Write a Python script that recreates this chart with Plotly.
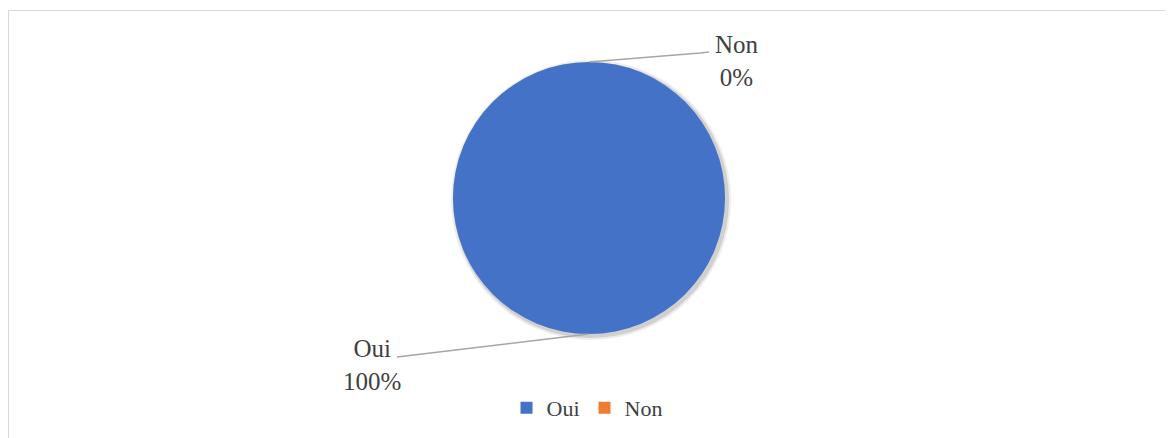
import plotly.graph_objects as go

W, H = 1173, 438
# the page body adds an 8px margin, so page pixels are shifted by this much
OFF = 8

labels = ["Oui", "Non"]
values = [100, 0]
colors = ["#4372C6", "#ED7D31"]

FONT = "Liberation Serif"
TXT = "#404040"


def px_x(x):
    return (x - OFF) / W


def px_y(y):
    return 1 - (y - OFF) / H


total = sum(values)
pct = [f"{round(v / total * 100)}%" for v in values]

fig = go.Figure()

# soft blurred shadow under the pie (two faint layers)
for grow, alpha in [(4, 0.07), (2, 0.12)]:
    fig.add_trace(go.Pie(
        labels=labels, values=values, sort=False,
        marker=dict(colors=[f"rgba(0,0,0,{alpha})"] * 2, line=dict(width=0)),
        textinfo="none", hoverinfo="skip", showlegend=False,
        domain=dict(x=[px_x(453 + 2 - grow), px_x(725 + 2 + grow)],
                    y=[px_y(334 + 2 + grow), px_y(62 + 2 - grow)]),
    ))

fig.add_trace(go.Pie(
    labels=labels, values=values, sort=False,
    marker=dict(colors=colors, line=dict(width=0)),
    textinfo="none",
    domain=dict(x=[px_x(453), px_x(725)], y=[px_y(334), px_y(62)]),
))

# leader lines
fig.add_shape(type="path", xref="paper", yref="paper",
              path=f"M {px_x(589)},{px_y(62)} L {px_x(700)},{px_y(53)} L {px_x(709)},{px_y(52)}",
              line=dict(color="#A6A6A6", width=1.5))
fig.add_shape(type="line", xref="paper", yref="paper",
              x0=px_x(589), y0=px_y(334), x1=px_x(397), y1=px_y(357),
              line=dict(color="#A6A6A6", width=1.5))

fig.add_annotation(x=px_x(737), y=px_y(61), xref="paper", yref="paper",
                   text=f"{labels[1]}<br>{pct[1]}", showarrow=False,
                   xanchor="center", yanchor="middle",
                   font=dict(family=FONT, size=25, color=TXT))
fig.add_annotation(x=px_x(372), y=px_y(365), xref="paper", yref="paper",
                   text=f"{labels[0]}<br>{pct[0]}", showarrow=False,
                   xanchor="center", yanchor="middle",
                   font=dict(family=FONT, size=25, color=TXT))

# chart border
fig.add_shape(type="rect", xref="paper", yref="paper",
              x0=px_x(8.5), x1=px_x(1169.5), y0=-0.1, y1=px_y(10.5),
              line=dict(color="#D9D9D9", width=1))

fig.update_layout(
    width=W, height=H,
    margin=dict(l=0, r=0, t=0, b=0),
    paper_bgcolor="white",
    font=dict(family=FONT, color=TXT),
    legend=dict(orientation="h", x=px_x(587), xanchor="center",
                y=px_y(408), yanchor="middle",
                font=dict(family=FONT, size=22, color=TXT),
                itemwidth=30, bgcolor="rgba(0,0,0,0)"),
)

fig.write_html("out.html")
